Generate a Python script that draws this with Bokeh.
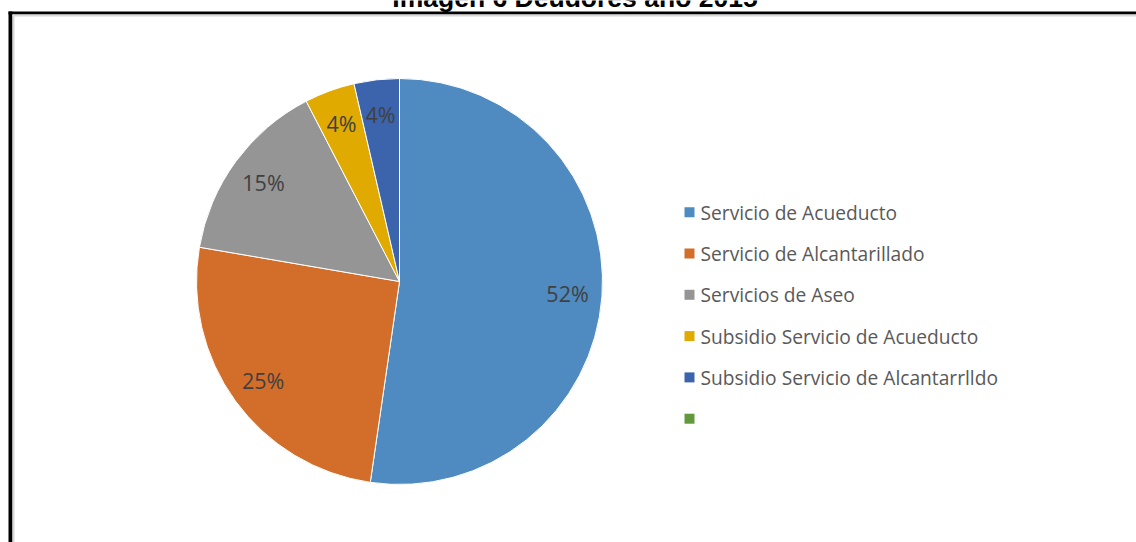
import math
from bokeh.plotting import figure
from bokeh.models import ColumnDataSource
from bokeh.core.properties import value
from bokeh.embed import file_html
from bokeh.resources import INLINE

# ---- data ----
title_text = "Imagen 6 Deudores año 2015"
categories = [
    "Servicio de Acueducto",
    "Servicio de Alcantarillado",
    "Servicios de Aseo",
    "Subsidio Servicio de Acueducto",
    "Subsidio Servicio de Alcantarrlldo",
    "",
]
shares = [52.3, 25.4, 14.7, 4.0, 3.6, 0.0]
colors = ["#4F8BC0", "#D36E2A", "#959595", "#E0AA00", "#3B64AD", "#62993E"]

# ---- figure ----
W, H = 1136, 542
p = figure(width=W, height=H, x_range=(0, W), y_range=(0, H),
           output_backend="svg", toolbar_location=None, min_border=0,
           x_axis_type=None, y_axis_type=None)
p.grid.visible = False
p.outline_line_color = None
p.background_fill_color = "white"
p.border_fill_color = "white"

# screen coords (X, Y from top-left) -> data
def dx(X):
    return X
def dy(Y):
    return H - Y

# frame border (black with light shadow)
p.line(x=[dx(10), dx(10)], y=[-5, dy(11)], line_color="black", line_width=4)
p.line(x=[dx(8), W + 5], y=[dy(12.5), dy(12.5)], line_color="black", line_width=3)
p.line(x=[dx(13), dx(13)], y=[-5, dy(14)], line_color="#D9D9D9", line_width=2)
p.line(x=[dx(12), W + 5], y=[dy(15), dy(15)], line_color="#D9D9D9", line_width=2)

# title (cut off at top as in reference)
p.text(x=[dx(574.5)], y=[dy(-2.5)], text=[title_text], text_align="center",
       text_baseline="alphabetic", text_font=value("Liberation Sans"),
       text_font_style="bold", text_font_size="26.5px", text_color="black")

# ---- pie ----
cx, cy, r = dx(399), dy(281), 203
total = sum(shares)
starts, ends, mids = [], [], []
cum = 0.0
for s in shares:
    a0 = cum / total
    cum += s
    a1 = cum / total
    starts.append(math.pi / 2 - 2 * math.pi * a0)
    ends.append(math.pi / 2 - 2 * math.pi * a1)
    mids.append(math.pi / 2 - math.pi * (a0 + a1))

n = len([s for s in shares if s > 0])
src = ColumnDataSource(dict(start=starts[:n], end=ends[:n], color=colors[:n]))
p.wedge(x=cx, y=cy, radius=r, start_angle="start", end_angle="end",
        direction="clock", fill_color="color", line_color="white",
        line_width=1, source=src)

lab_r = 0.83 * r
lx = [cx + lab_r * math.cos(m) for m in mids[:n]]
ly = [cy + lab_r * math.sin(m) for m in mids[:n]]
labels = [f"{round(s)}%" for s in shares[:n]]
p.text(x=lx, y=ly, text=labels, text_align="center", text_baseline="middle",
       text_font=value("Open Sans"), text_font_size="21.5px", text_color="#404040")

# ---- legend ----
row0, step = 211.7, 41.3
leg_y = [dy(row0 + i * step) for i in range(len(categories))]
p.rect(x=[dx(689)] * len(categories), y=leg_y, width=10, height=10,
       fill_color=colors, line_color=None)
p.text(x=[dx(700)] * len(categories), y=leg_y, text=categories,
       text_align="left", text_baseline="middle",
       text_font=value("Open Sans"), text_font_size="19.2px", text_color="#595959")

open("out.html", "w").write(file_html(p, INLINE))
